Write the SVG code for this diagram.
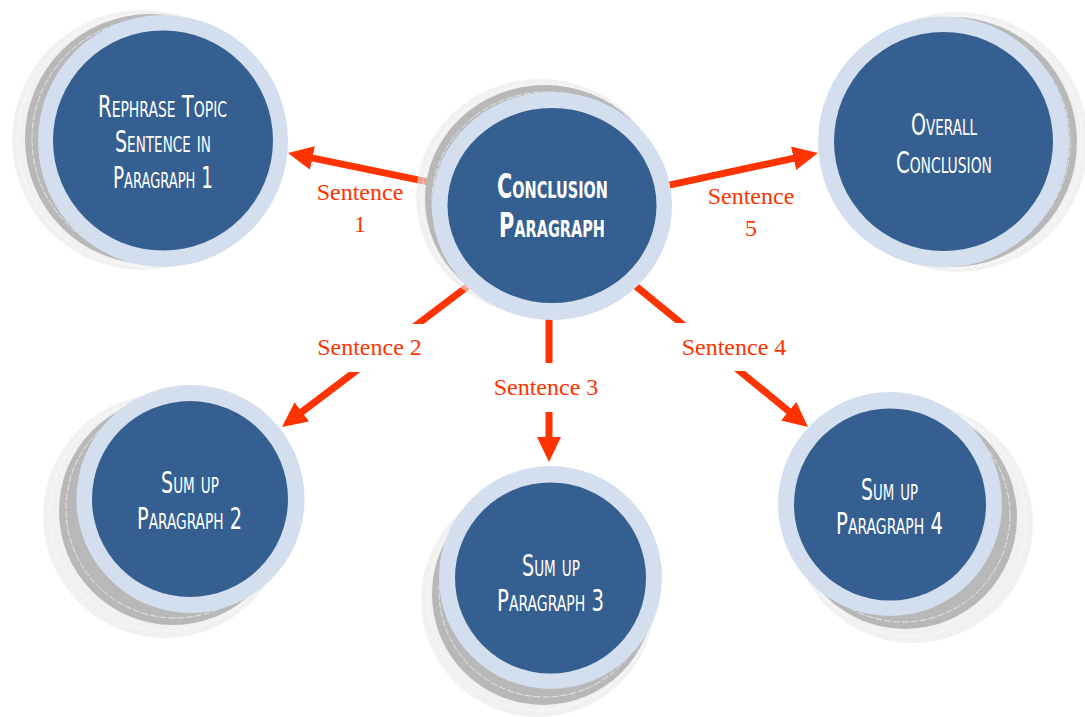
<svg xmlns="http://www.w3.org/2000/svg" width="1085" height="717" viewBox="0 0 1085 717">
<style>
.halo{fill:#e8e8e8;fill-opacity:0.6}
.halo-line{fill:none;stroke:#ffffff;stroke-width:0.8;stroke-dasharray:7 2;stroke-opacity:0.8}
.shadow{fill:#b8b8b8}
.shadow-line{fill:none;stroke:#ffffff;stroke-width:0.8;stroke-dasharray:7 2;stroke-opacity:0.8}
.ring{fill:#d3dfee}
.core{fill:#365f91}
.ntext{font-family:"Liberation Sans Narrow","DejaVu Sans Condensed","Liberation Sans",sans-serif;font-stretch:condensed;font-variant:small-caps;font-size:31px;fill:#ffffff;text-anchor:middle}
.ctext{font-size:33px;font-weight:bold}
.conn{fill:none;stroke:#ff3300;stroke-width:7;marker-end:url(#ah)}
.lbl{font-family:"Liberation Serif","DejaVu Serif",serif;font-size:24px;fill:#ff3300;text-anchor:middle}
.gap{fill:#ffffff}
</style>
<defs>
<marker id="ah" markerUnits="userSpaceOnUse" markerWidth="25" markerHeight="24" viewBox="0 0 25 24" refX="7" refY="12" orient="auto">
<path d="M0,0 L25,12 L0,24 Z" fill="#ff3300"/>
</marker>
</defs>
<rect width="1085" height="717" fill="#ffffff"/>
<g id="connectors">
<path class="conn" d="M440,184.4 L305.6,156.6"/>
<path class="conn" d="M668,185.4 L800.4,156.8"/>
<path class="conn" d="M472,283 L296.3,416.1"/>
<path class="conn" d="M549,316 L549,444"/>
<path class="conn" d="M632,283 L794.1,415.6"/>
<rect class="gap" x="300" y="324" width="135" height="48"/>
<rect class="gap" x="485" y="363" width="125" height="49"/>
<rect class="gap" x="665" y="323" width="135" height="48"/>
<text class="lbl" x="360" y="200">Sentence</text>
<text class="lbl" x="360" y="232">1</text>
<text class="lbl" x="751" y="204">Sentence</text>
<text class="lbl" x="751" y="236">5</text>
<text class="lbl" x="369.5" y="355">Sentence 2</text>
<text class="lbl" x="546" y="395">Sentence 3</text>
<text class="lbl" x="734" y="355">Sentence 4</text>
</g>
<g id="node-rephrase">
<circle class="halo" cx="142" cy="140" r="130"/>
<circle class="halo-line" cx="144" cy="140" r="126"/>
<circle class="shadow" cx="150" cy="139" r="125"/>
<circle class="shadow-line" cx="152" cy="139" r="120"/>
<ellipse class="ring" cx="163" cy="141" rx="125" ry="126"/>
<circle class="core" cx="163" cy="140.5" r="110"/>
<text class="ntext" x="162.5" y="117" textLength="129" lengthAdjust="spacingAndGlyphs">Rephrase Topic</text>
<text class="ntext" x="163" y="152" textLength="96" lengthAdjust="spacingAndGlyphs">Sentence in</text>
<text class="ntext" x="163" y="188" textLength="100" lengthAdjust="spacingAndGlyphs">Paragraph 1</text>
</g>
<g id="node-conclusion">
<ellipse class="halo" cx="540" cy="197" rx="124" ry="118"/>
<ellipse class="halo-line" cx="542" cy="198" rx="120" ry="114"/>
<ellipse class="shadow" cx="545" cy="199" rx="120" ry="114"/>
<ellipse class="shadow-line" cx="547" cy="201" rx="115" ry="109"/>
<ellipse class="ring" cx="552" cy="206" rx="120" ry="114"/>
<ellipse class="core" cx="552" cy="205.5" rx="104.5" ry="97.5"/>
<text class="ntext ctext" x="552.5" y="198" textLength="111" lengthAdjust="spacingAndGlyphs">Conclusion</text>
<text class="ntext ctext" x="552" y="237" textLength="106" lengthAdjust="spacingAndGlyphs">Paragraph</text>
</g>
<g id="node-overall">
<circle class="halo" cx="958" cy="142" r="130"/>
<circle class="halo-line" cx="956" cy="142" r="126"/>
<circle class="shadow" cx="952" cy="142" r="125"/>
<circle class="shadow-line" cx="950" cy="142" r="120"/>
<circle class="ring" cx="943.5" cy="142" r="125.5"/>
<circle class="core" cx="943.5" cy="141.5" r="109.5"/>
<text class="ntext" x="944" y="135" textLength="66" lengthAdjust="spacingAndGlyphs">Overall</text>
<text class="ntext" x="944" y="173" textLength="96" lengthAdjust="spacingAndGlyphs">Conclusion</text>
</g>
<g id="node-para2">
<circle class="halo" cx="165" cy="516" r="122"/>
<circle class="halo-line" cx="167" cy="514" r="117"/>
<circle class="shadow" cx="173" cy="511" r="114"/>
<circle class="shadow-line" cx="175" cy="509" r="109"/>
<circle class="ring" cx="190.5" cy="499" r="114"/>
<circle class="core" cx="190" cy="499" r="98"/>
<text class="ntext" x="190" y="493" textLength="58" lengthAdjust="spacingAndGlyphs">Sum up</text>
<text class="ntext" x="189.5" y="529" textLength="105" lengthAdjust="spacingAndGlyphs">Paragraph 2</text>
</g>
<g id="node-para3">
<circle class="halo" cx="538" cy="600" r="117"/>
<circle class="halo-line" cx="540" cy="598" r="112"/>
<circle class="shadow" cx="543" cy="594" r="111"/>
<circle class="shadow-line" cx="545" cy="591" r="106"/>
<circle class="ring" cx="550.5" cy="577.5" r="111.5"/>
<circle class="core" cx="550.5" cy="578" r="95.5"/>
<text class="ntext" x="551" y="576" textLength="58" lengthAdjust="spacingAndGlyphs">Sum up</text>
<text class="ntext" x="550.5" y="611" textLength="107" lengthAdjust="spacingAndGlyphs">Paragraph 3</text>
</g>
<g id="node-para4">
<circle class="halo" cx="913" cy="523" r="120"/>
<circle class="halo-line" cx="911" cy="521" r="115"/>
<circle class="shadow" cx="905" cy="517" r="112"/>
<circle class="shadow-line" cx="903" cy="515" r="107"/>
<circle class="ring" cx="890" cy="504" r="112"/>
<circle class="core" cx="890" cy="504.5" r="96"/>
<text class="ntext" x="889.5" y="500" textLength="57" lengthAdjust="spacingAndGlyphs">Sum up</text>
<text class="ntext" x="889.5" y="534" textLength="107" lengthAdjust="spacingAndGlyphs">Paragraph 4</text>
</g>
</svg>
